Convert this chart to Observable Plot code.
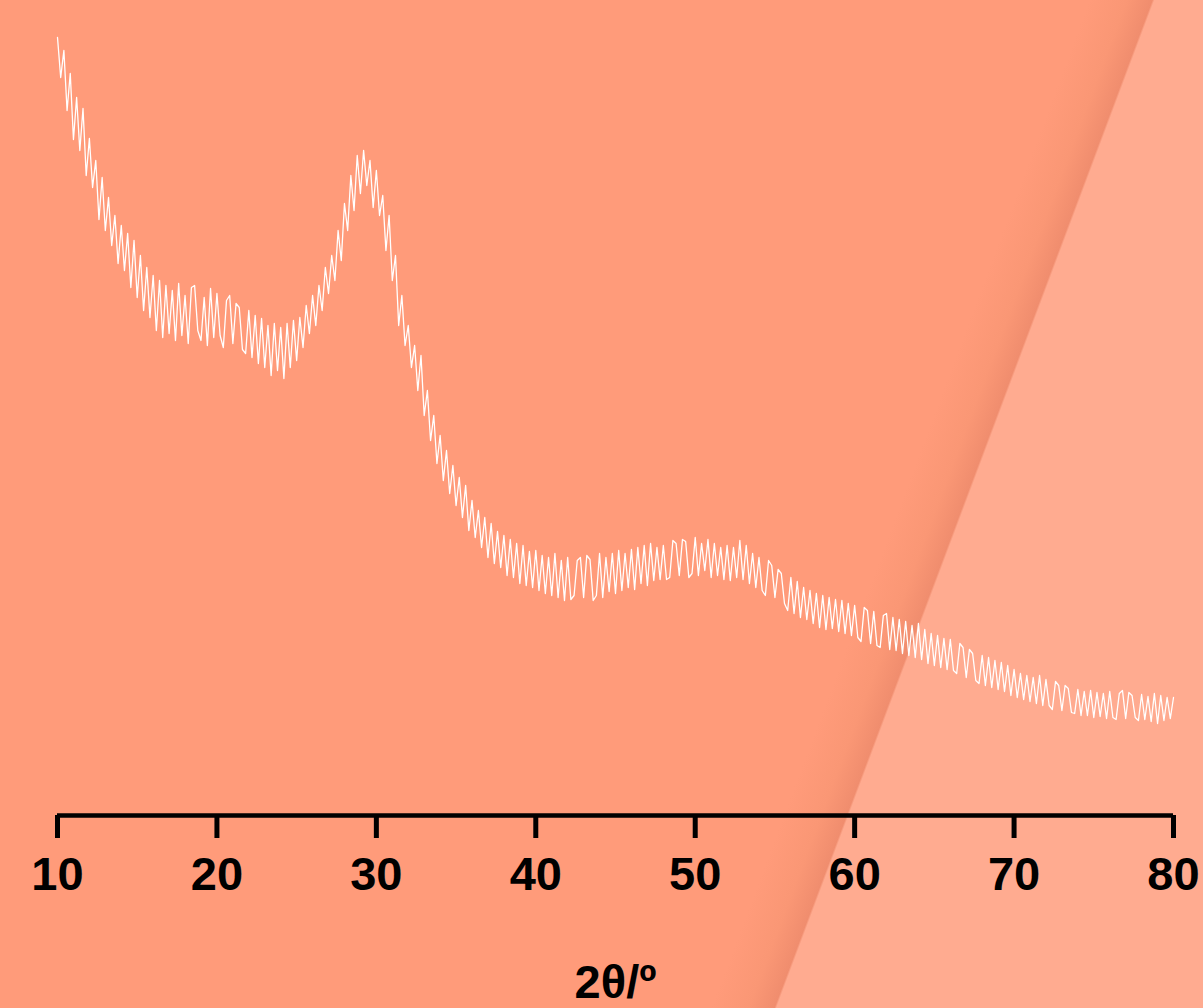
<!DOCTYPE html>
<html>
<head>
<meta charset="utf-8">
<script src="https://cdn.jsdelivr.net/npm/d3@7"></script>
<script src="https://cdn.jsdelivr.net/npm/@observablehq/plot@0.6"></script>
<style>
  html, body { margin: 0; padding: 0; }
  body {
    width: 1203px; height: 1008px; overflow: hidden;
    background: linear-gradient(110.56deg, #FF9B7A 0px, #FF9B7A 1020px, #FA9775 1055px, #F08D6E 1079px, #FFAB90 1081px, #FFAB90 100%);
  }
  #chart svg { display: block; }
</style>
</head>
<body>
<div id="chart"></div>
<script>
// 2θ start/step (degrees) and measured intensities (arbitrary units)
const thetaStart = 10;
const thetaStep = 0.2;
const intensity = [
  778,738,765,705,742,676,718,665,707,640,
  677,628,655,596,638,585,618,570,600,552,
  590,545,582,528,575,518,560,505,548,498,
  540,485,535,478,530,482,525,475,532,480,
  520,472,528,530,485,475,518,470,527,478,
  522,480,468,515,520,472,512,508,466,462,
  505,458,500,452,497,448,490,440,492,445,
  488,437,492,448,495,455,498,468,510,482,
  520,490,530,505,548,522,560,535,585,555,
  612,585,640,605,660,622,665,630,655,608,
  645,600,620,565,600,535,560,490,520,470,
  490,448,470,425,460,400,425,375,400,352,
  380,335,365,322,350,310,338,298,330,285,
  315,278,305,268,298,258,292,252,284,248,
  280,240,276,238,272,232,270,230,264,228,
  265,225,260,222,258,220,262,218,255,215,
  258,216,220,255,258,218,260,256,215,220,
  262,218,258,224,262,222,265,225,262,228,
  266,226,268,232,270,230,272,235,268,236,
  270,236,238,275,272,240,276,274,238,242,
  278,240,272,245,276,238,272,240,268,236,
  270,235,268,238,275,236,270,232,262,228,
  258,225,220,255,250,218,246,242,212,205,
  238,202,234,198,228,196,225,192,222,188,
  220,186,218,187,216,184,215,182,212,180,
  210,178,174,208,205,172,204,170,168,200,
  202,166,198,165,196,162,194,160,190,158,
  192,156,186,152,182,150,180,148,177,146,
  176,145,142,172,168,138,166,162,135,132,
  160,130,158,128,155,126,153,124,150,120,
  146,118,142,116,140,114,138,112,140,110,
  136,110,106,134,130,105,130,127,103,102,
  126,100,124,100,125,98,123,99,122,97,
  124,98,96,122,125,97,123,120,98,95,
  121,96,119,94,122,92,120,95,118,97,
  118
];
const xTicks = [10, 20, 30, 40, 50, 60, 70, 80];
const xLabel = "2θ/º";

const data = intensity.map((v, i) => ({ theta: thetaStart + i * thetaStep, v }));

const chart = Plot.plot({
  width: 1203,
  height: 1008,
  marginLeft: 57,
  marginRight: 30,
  marginTop: 15,
  marginBottom: 193,
  style: {
    background: "transparent",
    fontFamily: "'Liberation Sans', Arial, sans-serif",
    fontSize: "47px",
    fontWeight: "bold",
    color: "black"
  },
  x: { domain: [10, 80] },
  y: { domain: [0, 800], axis: null },
  marks: [
    Plot.line(data, { x: "theta", y: "v", stroke: "white", strokeWidth: 1.3 }),
    Plot.ruleY([0], { stroke: "black", strokeWidth: 4.5 }),
    Plot.axisX({
      ticks: xTicks,
      tickSize: 23,
      tickPadding: 18,
      strokeWidth: 5,
      label: xLabel,
      labelAnchor: "center",
      labelArrow: "none",
      labelOffset: 182
    })
  ]
});
document.getElementById("chart").appendChild(chart);
</script>
</body>
</html>
